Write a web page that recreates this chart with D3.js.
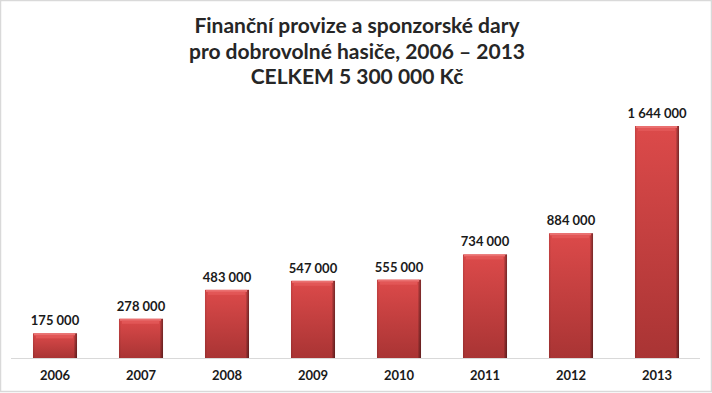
<!DOCTYPE html>
<html><head><meta charset="utf-8">
<script src="https://cdn.jsdelivr.net/npm/d3@7/dist/d3.min.js"></script>
<style>html,body{margin:0;padding:0;background:#fff}svg{display:block}</style>
</head><body>
<svg id="c" width="712" height="393"></svg>
<script>
const years = ["2006","2007","2008","2009","2010","2011","2012","2013"];
const values = [175000, 278000, 483000, 547000, 555000, 734000, 884000, 1644000];
const titleLines = ["Finanční provize a sponzorské dary", "pro dobrovolné hasiče, 2006 – 2013", "CELKEM 5 300 000 Kč"];

const W = 712, H = 393;
const svg = d3.select("#c");
const font = "Lato, 'Open Sans', sans-serif";

svg.append("rect").attr("x",0.5).attr("y",0.5).attr("width",W-1).attr("height",H-2)
  .attr("fill","#fff").attr("stroke","#d9d9d9").attr("stroke-width",1.5);

const defs = svg.append("defs");
const gv = defs.append("linearGradient").attr("id","gv").attr("x1",0).attr("y1",0).attr("x2",0).attr("y2",1);
gv.append("stop").attr("offset",0).attr("stop-color","#dc4a4a");
gv.append("stop").attr("offset",1).attr("stop-color","#a93434");
const gh = defs.append("linearGradient").attr("id","gh").attr("x1",0).attr("y1",0).attr("x2",1).attr("y2",0);
gh.append("stop").attr("offset",0).attr("stop-color","#000").attr("stop-opacity",0.12);
gh.append("stop").attr("offset",0.05).attr("stop-color","#000").attr("stop-opacity",0);
gh.append("stop").attr("offset",0.92).attr("stop-color","#000").attr("stop-opacity",0);
gh.append("stop").attr("offset",0.96).attr("stop-color","#000").attr("stop-opacity",0.25);
gh.append("stop").attr("offset",1).attr("stop-color","#000").attr("stop-opacity",0.45);

const x = d3.scaleBand().domain(years).range([12, 700]).paddingInner(0.488).paddingOuter(0.244);
const y = d3.scaleLinear().domain([0, 1800000]).range([358, 104]);

// baseline
svg.append("line").attr("x1",11).attr("x2",700).attr("y1",358.5).attr("y2",358.5)
  .attr("stroke","#d9d9d9").attr("stroke-width",1);

const data = years.map((yr,i)=>({yr, v: values[i]}));
const g = svg.append("g");
const bars = g.selectAll("g.bar").data(data).join("g").attr("class","bar");
bars.append("rect").attr("x",d=>x(d.yr)).attr("y",d=>y(d.v)).attr("width",x.bandwidth())
  .attr("height",d=>y(0)-y(d.v)).attr("fill","url(#gv)");
bars.append("rect").attr("x",d=>x(d.yr)).attr("y",d=>y(d.v)).attr("width",x.bandwidth())
  .attr("height",d=>y(0)-y(d.v)).attr("fill","url(#gh)");
// top bevel highlight
bars.append("rect").attr("x",d=>x(d.yr)+1).attr("y",d=>y(d.v)).attr("width",x.bandwidth()-3)
  .attr("height",2).attr("fill","#ea7070");
bars.append("rect").attr("x",d=>x(d.yr)+3).attr("y",d=>y(d.v)+2).attr("width",x.bandwidth()-7)
  .attr("height",3).attr("fill","#e35a5a").attr("opacity",0.8);

const fmt = v => d3.format(",")(v).replace(/,/g, " ");
bars.append("text").attr("x",d=>x(d.yr)+x.bandwidth()/2).attr("y",d=>y(d.v)-8)
  .attr("text-anchor","middle").attr("font-family",font).attr("font-weight","bold")
  .attr("font-size",13).attr("fill","#1a1a1a").text(d=>fmt(d.v));

// x axis labels
const xa = svg.append("g").attr("transform","translate(0,358)")
  .call(d3.axisBottom(x).tickSize(0).tickPadding(13));
xa.select(".domain").remove();
xa.selectAll("text").attr("font-family",font).attr("font-weight","bold").attr("font-size",13).attr("fill","#1a1a1a");

// title
const t = svg.append("g");
titleLines.forEach((s,i)=>{
  t.append("text").attr("x",357).attr("y",33+i*25.5).attr("text-anchor","middle")
   .attr("font-family",font).attr("font-weight","bold").attr("font-size",21).attr("fill","#262626").text(s);
});
</script>
</body></html>
